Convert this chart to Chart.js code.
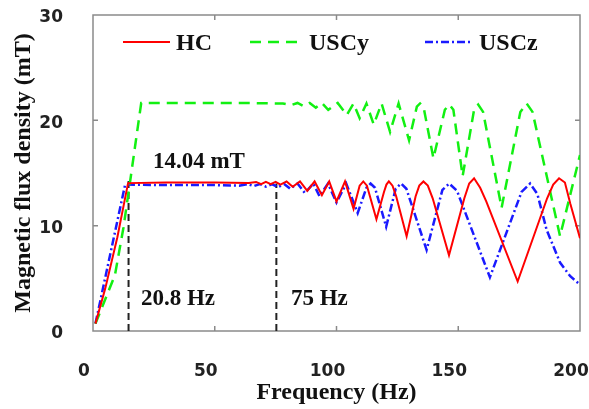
<!DOCTYPE html>
<html>
<head>
<meta charset="utf-8">
<script src="https://cdn.jsdelivr.net/npm/chart.js@4.4.0/dist/chart.umd.min.js"></script>
<style>
  html, body { margin: 0; padding: 0; background: #ffffff; }
  #wrap { width: 589px; height: 409px; }
</style>
</head>
<body>
<div id="wrap"><canvas id="fluxChart" width="589" height="409"></canvas></div>
<script>
// Values (frequency in Hz, flux density in mT)
const hcFreq = [1, 5, 10, 14.4, 30, 50, 64, 67, 69, 71, 73, 75, 77, 79.5, 82, 85, 88, 91, 94, 97, 100, 103.5, 107, 109.5, 111, 112.5, 116.4, 119.5, 120.5, 121.5, 123, 124.5, 128.8, 132.5, 134, 135.7, 137.5, 139.5, 146.2, 152.5, 154.5, 156.5, 159, 161.5, 174.4, 186.5, 189, 191.4, 193.8, 196, 200];
const hcFlux = [0.7, 4.0, 8.9, 14.04, 14.1, 14.1, 14.05, 14.15, 13.95, 14.15, 13.95, 14.15, 13.9, 14.2, 13.7, 14.2, 13.3, 14.2, 12.9, 14.2, 12.3, 14.2, 11.6, 13.8, 14.2, 13.8, 10.6, 13.2, 13.9, 14.2, 13.8, 12.8, 9.0, 12.8, 13.8, 14.2, 13.8, 12.6, 7.2, 12.6, 14.0, 14.5, 13.6, 12.3, 4.7, 12.6, 13.9, 14.5, 14.1, 12.1, 8.8];

const uscyFreq = [1, 9, 12.5, 15, 17.5, 19.8, 40, 60, 78, 81.5, 84, 86.5, 89, 91.5, 94, 96.6, 100.5, 104.2, 107, 109.5, 112.3, 115.3, 118.5, 122, 125.5, 129.8, 133, 134.3, 135.8, 139.8, 144.5, 146.3, 148, 151.8, 156.5, 158.2, 160.2, 167.8, 175.5, 178.1, 180.5, 191.8, 200];
const uscyFlux = [0.7, 5.3, 9.8, 13.8, 17.9, 21.65, 21.65, 21.65, 21.6, 21.45, 21.65, 21.35, 21.65, 21.2, 21.65, 21.0, 21.65, 20.5, 21.6, 20.2, 21.6, 19.6, 21.6, 18.9, 21.6, 18.1, 21.3, 21.6, 21.2, 16.4, 21.0, 21.5, 21.0, 14.7, 21.0, 21.5, 20.8, 11.7, 20.8, 21.6, 20.8, 9.0, 16.7];

const usczFreq = [1, 7, 13.2, 30, 50, 60, 63.5, 66, 68.5, 71, 73.5, 76, 78.5, 81, 84, 87, 90.5, 93, 96.5, 100, 104, 108.7, 112.3, 114, 115.8, 120.4, 124.3, 126.5, 128.7, 137, 143.5, 146.3, 149.5, 163, 176, 179.5, 182.5, 186.3, 191.8, 196, 200];
const usczFlux = [0.7, 7.2, 13.9, 13.85, 13.85, 13.8, 13.95, 13.75, 13.95, 13.7, 13.95, 13.65, 13.95, 13.5, 14.0, 13.1, 14.0, 12.8, 14.0, 12.2, 14.0, 11.2, 13.6, 14.0, 13.6, 9.9, 13.5, 14.0, 13.5, 7.7, 13.4, 14.0, 13.3, 5.1, 13.2, 14.0, 13.0, 9.6, 6.5, 5.2, 4.4];

// dashed guide lines dropped from the plateau corners
const markerFreq = [14.6, 75.3];
const markerTop = [14.3, 14.0];

const xTicks = [0, 50, 100, 150, 200];
const yTicks = [0, 10, 20, 30];

function toPoints(xs, ys) {
    return xs.map((x, i) => ({ x: x, y: ys[i] }));
}

const serif = 'Liberation Serif';

// Box round the plot with small inward ticks on every side
const framePlugin = {
    id: 'frame',
    beforeDatasetsDraw(chart) {
        const { ctx, chartArea: a, scales } = chart;
        ctx.save();
        ctx.strokeStyle = '#8a8a8a';
        ctx.lineWidth = 1.5;
        ctx.strokeRect(a.left, a.top, a.right - a.left, a.bottom - a.top);
        ctx.beginPath();
        xTicks.slice(1, -1).forEach(v => {
            const px = scales.x.getPixelForValue(v);
            ctx.moveTo(px, a.bottom); ctx.lineTo(px, a.bottom - 5);
            ctx.moveTo(px, a.top); ctx.lineTo(px, a.top + 5);
        });
        yTicks.slice(1, -1).forEach(v => {
            const py = scales.y.getPixelForValue(v);
            ctx.moveTo(a.left, py); ctx.lineTo(a.left + 5, py);
            ctx.moveTo(a.right, py); ctx.lineTo(a.right - 5, py);
        });
        ctx.stroke();
        ctx.restore();
    }
};

// Text notes placed in data coordinates
const notesPlugin = {
    id: 'notes',
    afterDatasetsDraw(chart) {
        const { ctx, scales } = chart;
        const notes = [
            { text: '14.04 mT', x: 24.6, y: 15.5 },
            { text: '20.8 Hz', x: 19.7, y: 2.5 },
            { text: '75 Hz', x: 81.3, y: 2.5 }
        ];
        ctx.save();
        ctx.fillStyle = '#111111';
        ctx.font = 'bold 23px "' + serif + '"';
        ctx.textBaseline = 'alphabetic';
        notes.forEach(n => {
            ctx.fillText(n.text, scales.x.getPixelForValue(n.x), scales.y.getPixelForValue(n.y));
        });
        ctx.restore();
    }
};

// Legend drawn inside the top of the plot, one row
const legendPlugin = {
    id: 'insideLegend',
    afterDraw(chart) {
        const ctx = chart.ctx;
        const spots = [123, 250, 425];
        const lens = [47, 53, 48];
        ctx.save();
        chart.data.datasets.slice(0, 3).forEach((ds, i) => {
            const x0 = spots[i];
            ctx.strokeStyle = ds.borderColor;
            ctx.lineWidth = ds.borderWidth;
            ctx.setLineDash(ds.borderDash || []);
            ctx.beginPath();
            ctx.moveTo(x0, 42);
            ctx.lineTo(x0 + lens[i], 42);
            ctx.stroke();
            ctx.setLineDash([]);
            ctx.fillStyle = '#111111';
            ctx.font = 'bold 24px "' + serif + '"';
            ctx.fillText(ds.label, x0 + lens[i] + 6, 50);
        });
        ctx.restore();
    }
};

const lineStyle = { showLine: true, pointRadius: 0, tension: 0, fill: false };

const chart = new Chart(document.getElementById('fluxChart'), {
    type: 'scatter',
    data: {
        datasets: [
            { ...lineStyle, label: 'HC', data: toPoints(hcFreq, hcFlux), borderColor: '#ff0000', borderWidth: 2 },
            { ...lineStyle, label: 'USCy', data: toPoints(uscyFreq, uscyFlux), borderColor: '#12f012', borderWidth: 2.5, borderDash: [11, 7] },
            { ...lineStyle, label: 'USCz', data: toPoints(usczFreq, usczFlux), borderColor: '#1a1aff', borderWidth: 2.5, borderDash: [8, 3, 2, 3] },
            { ...lineStyle, label: '', data: [{ x: markerFreq[0], y: 0 }, { x: markerFreq[0], y: markerTop[0] }], borderColor: '#222222', borderWidth: 2, borderDash: [7, 4] },
            { ...lineStyle, label: '', data: [{ x: markerFreq[1], y: 0 }, { x: markerFreq[1], y: markerTop[1] }], borderColor: '#222222', borderWidth: 2, borderDash: [7, 4] }
        ]
    },
    options: {
        responsive: false,
        animation: false,
        devicePixelRatio: 1,
        layout: { padding: { left: 0, right: 9, top: 15, bottom: 0 } },
        plugins: {
            legend: { display: false },
            tooltip: { enabled: false }
        },
        scales: {
            x: {
                type: 'linear',
                min: 0,
                max: 200,
                grid: { display: false },
                border: { display: false },
                ticks: {
                    stepSize: 50,
                    padding: 22,
                    labelOffset: -9,
                    color: '#222222',
                    font: { family: 'DejaVu Sans', weight: 'bold', size: 17 }
                },
                title: {
                    display: true,
                    text: 'Frequency (Hz)',
                    color: '#111111',
                    font: { family: serif, weight: 'bold', size: 24, lineHeight: 1.2 },
                    padding: { top: 0, bottom: 2 }
                },
                afterFit: scale => {
                    scale.height = 78;
                    scale.paddingLeft = 0;
                    scale.paddingRight = 0;
                }
            },
            y: {
                min: 0,
                max: 30,
                grid: { display: false },
                border: { display: false },
                ticks: {
                    stepSize: 10,
                    padding: 22,
                    labelOffset: 3,
                    color: '#222222',
                    font: { family: 'DejaVu Sans', weight: 'bold', size: 17 }
                },
                title: {
                    display: true,
                    text: 'Magnetic flux density (mT)',
                    color: '#111111',
                    font: { family: serif, weight: 'bold', size: 24, lineHeight: 1.2 },
                    padding: { top: 9, bottom: 0 }
                },
                afterFit: scale => {
                    scale.width = 93;
                    scale.paddingTop = 0;
                    scale.paddingBottom = 0;
                }
            }
        }
    },
    plugins: [framePlugin, notesPlugin, legendPlugin]
});
</script>
</body>
</html>
